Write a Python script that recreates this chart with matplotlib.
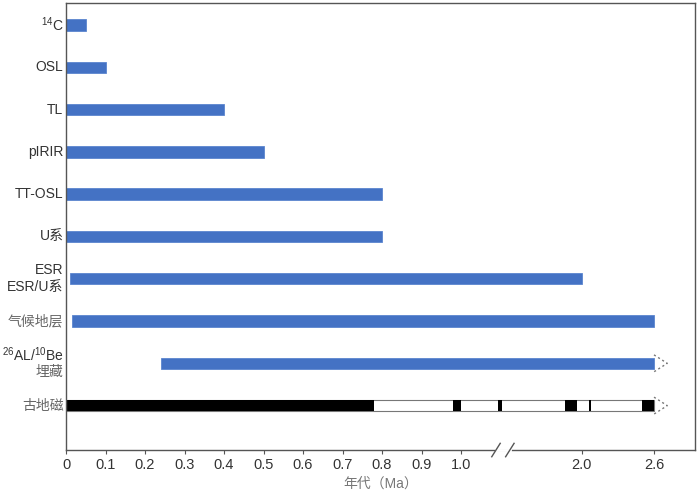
import numpy as np
import matplotlib
matplotlib.use("Agg")
import matplotlib.pyplot as plt

plt.rcParams['font.family'] = ['Liberation Sans', 'Noto Sans CJK SC', 'DejaVu Sans']
plt.rcParams['mathtext.fontset'] = 'custom'
plt.rcParams['mathtext.rm'] = 'Liberation Sans'
plt.rcParams['mathtext.it'] = 'Liberation Sans'

# dating methods, top to bottom
methods = ['$^{14}$C', 'OSL', 'TL', 'pIRIR', 'TT-OSL', 'U系',
           ['ESR', 'ESR/U系'], '气候地层', ['$^{26}$AL/$^{10}$Be', '埋藏'], '古地磁']
bar_start = [0, 0, 0, 0, 0, 0, 0.01, 0.015, 0.24]
bar_end = [0.05, 0.1, 0.4, 0.5, 0.8, 0.8, 2.0, 2.6, 2.6]
open_ended = [False, False, False, False, False, False, False, False, True]

# paleomagnetic column
pm_range = (0, 2.6)
pm_black = [(0, 0.78), (0.98, 1.0), (1.31, 1.34), (1.86, 1.96), (2.06, 2.08), (2.5, 2.6)]

xticks = [0, 0.1, 0.2, 0.3, 0.4, 0.5, 0.6, 0.7, 0.8, 0.9, 1.0, 2.0, 2.6]
xticklabels = ['0', '0.1', '0.2', '0.3', '0.4', '0.5', '0.6', '0.7', '0.8', '0.9', '1.0', '2.0', '2.6']

# axis is compressed beyond 1.0 Ma
K = 0.3054
def fwd(a):
    a = np.asarray(a, dtype=float)
    return np.where(a <= 1, a, 1 + (a - 1) * K)
def inv(t):
    t = np.asarray(t, dtype=float)
    return np.where(t <= 1, t, 1 + (t - 1) / K)

blue = '#4472C4'
h = 0.27

fig = plt.figure(figsize=(7, 4.94), dpi=100)
ax = fig.add_axes([0.0943, 0.089, 0.8986, 0.905])
ax.set_xscale('function', functions=(fwd, inv))

for i in range(len(bar_end)):
    ax.barh(i, bar_end[i] - bar_start[i], left=bar_start[i], height=h,
            color=blue, edgecolor='#5b85cf', linewidth=0.6)
    if open_ended[i]:
        tip = bar_end[i] + 0.11
        ax.plot([bar_end[i], tip, bar_end[i]], [i - 0.2, i, i + 0.2],
                ls=(0, (1.5, 2)), color='#777777', lw=1)

pm_row = len(methods) - 1
ax.barh(pm_row, pm_range[1] - pm_range[0], left=pm_range[0], height=h,
        color='white', edgecolor='#777777', linewidth=0.8)
for s, e in pm_black:
    ax.barh(pm_row, e - s, left=s, height=h, color='black', linewidth=0)
tip = pm_range[1] + 0.11
ax.plot([pm_range[1], tip, pm_range[1]], [pm_row - 0.2, pm_row, pm_row + 0.2],
        ls=(0, (1.5, 2)), color='#777777', lw=1)

ax.set_xlim(0, 2.94)
ax.set_ylim(10.05, -0.52)

ax.set_xticks(xticks)
ax.set_xticklabels(xticklabels)
ax.minorticks_off()
ax.tick_params(axis='x', direction='out', length=3, color='#555555',
               labelsize=10.5, labelcolor='#333333', pad=3)
ax.set_yticks([])
for sp in ax.spines.values():
    sp.set_color('#555555')
    sp.set_linewidth(1)

ax.set_xlabel('年代（Ma）', fontsize=10, color='#777777', labelpad=3)

# method labels
tr = ax.get_yaxis_transform()
for i, lab in enumerate(methods):
    if isinstance(lab, list):
        ax.text(-0.004, i - 0.2, lab[0], transform=tr, ha='right', va='center',
                fontsize=10, color='#333333')
        ax.text(-0.004, i + 0.2, lab[1], transform=tr, ha='right', va='center',
                fontsize=10, color='#333333' if lab[1].isascii() or 'ESR' in lab[1] else '#666666')
    else:
        c = '#666666' if lab in ('气候地层', '古地磁') else '#333333'
        ax.text(-0.004, i, lab, transform=tr, ha='right', va='center',
                fontsize=10, color=c)

# axis break marks
xtr = ax.get_xaxis_transform()
b1, b2 = 1.29, 1.405
ax.plot([b1, b2], [0, 0], color='white', lw=2, transform=xtr, clip_on=False, zorder=5)
for b in (b1, b2):
    ax.plot([b - 0.035, b + 0.035], [-0.015, 0.015], color='#555555', lw=1,
            transform=xtr, clip_on=False, zorder=6)

fig.savefig('out.png', dpi=100)
